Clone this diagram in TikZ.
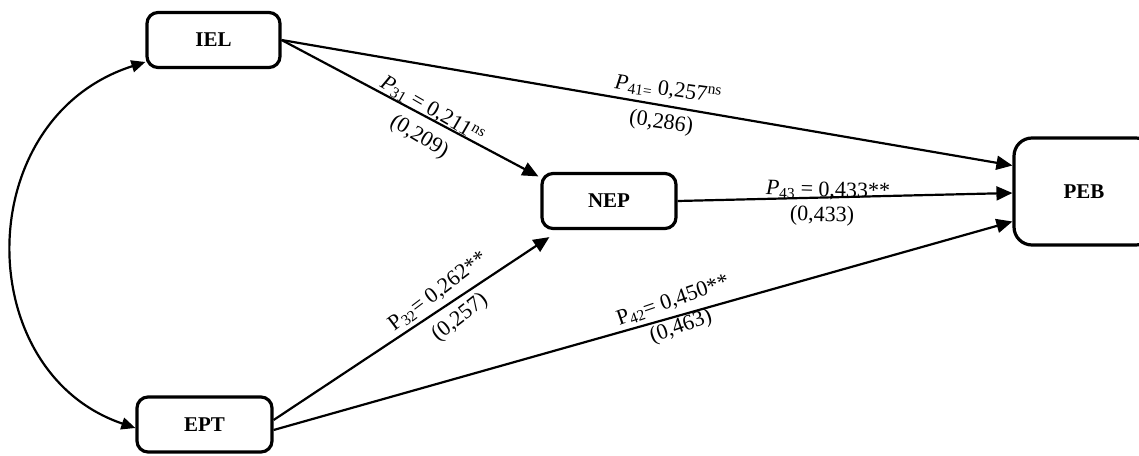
\documentclass[tikz,border=0pt]{standalone}
\usepackage{fontspec}
\setmainfont{Liberation Serif}
\usetikzlibrary{arrows.meta}
\begin{document}
\begin{tikzpicture}[x=1pt,y=1pt,
  box/.style={draw, line width=3.2pt, rounded corners=11pt, fill=white, minimum width=133pt, minimum height=55pt, font=\fontsize{21}{24}\selectfont\bfseries, inner sep=0pt},
  conn/.style={line width=2.2pt, -{Triangle[length=16pt,width=14pt]}},
  lab/.style={font=\fontsize{22}{25}\selectfont, inner sep=0pt}
]
\useasboundingbox (0,0) rectangle (1139,-455);
\node[box] (IEL) at (213.5,-40) {IEL};
\node[box, minimum width=135pt] (EPT) at (204.5,-424.5) {EPT};
\node[box, minimum width=134pt] (NEP) at (609,-201) {NEP};
\node[box, minimum width=140pt, minimum height=107pt, rounded corners=18pt] (PEB) at (1084,-191.5) {PEB};

\draw[conn] (IEL.east) -- ([xshift=-2pt,yshift=-4.5pt]NEP.north west);
\draw[conn] (IEL.east) -- ([yshift=26pt]PEB.west);
\draw[conn] (NEP.east) -- ([yshift=-1.5pt]PEB.west);
\draw[conn] ([yshift=4.5pt]EPT.east) -- ([xshift=9pt,yshift=-7pt]NEP.south west);
\draw[conn] ([yshift=-5.5pt]EPT.east) -- ([yshift=-30pt]PEB.west);
\draw[line width=2.2pt, {Triangle[length=14pt,width=12pt]}-{Triangle[length=14pt,width=12pt]}]
  ([yshift=-22pt]IEL.west) .. controls (-30,-118) and (-30,-372) .. ([yshift=-3.5pt]EPT.west);

\node[lab, rotate=-30] (l31) at (432,-110) {{\itshape P}\textsubscript{31} = 0,211\textsuperscript{ns}};
\node[lab, rotate=-31] (l31b) at (419,-137) {(0,209)};
\node[lab, rotate=-8] (l41) at (668,-90) {{\itshape P}\textsubscript{41=} 0,257\textsuperscript{ns}};
\node[lab, rotate=-8] (l41b) at (661,-123) {(0,286)};
\node[lab, rotate=-1.5] (l43) at (828,-191) {{\itshape P}\textsubscript{43} = 0,433**};
\node[lab, rotate=-1.5] (l43b) at (822,-216) {(0,433)};
\node[lab, rotate=37] (l32) at (438,-292) {P\textsubscript{32}= 0,262**};
\node[lab, rotate=38] (l32b) at (460,-318) {(0,257)};
\node[lab, rotate=19] (l42) at (673,-301) {P\textsubscript{42}= 0,450**};
\node[lab, rotate=19] (l42b) at (681,-327) {(0,463)};
\end{tikzpicture}
\end{document}
